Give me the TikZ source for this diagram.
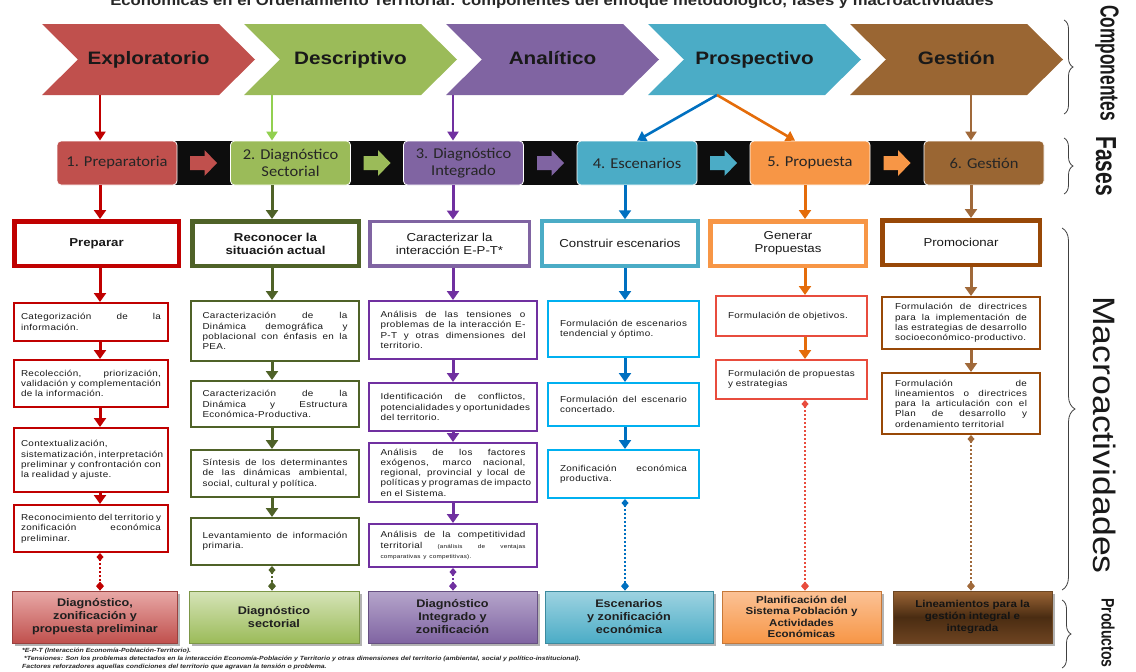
\documentclass[tikz,border=0pt]{standalone}
\usepackage{graphicx}
\usepackage{fontspec}
\setmainfont{Liberation Sans}[FakeStretch=1.15]
\newfontfamily\boxfont{Liberation Sans}[FakeStretch=1.15,LetterSpace=4]
\newfontfamily\phasefont{Carlito}[FakeStretch=1.1]
\usetikzlibrary{arrows.meta,decorations.pathreplacing,shadows}
\hyphenpenalty=10000
\tolerance=9999
\emergencystretch=10pt
\newlength\jw
\newcommand\jl[1]{\leavevmode\hbox to \jw{\spaceskip=0.3em plus 3em minus 0.05em\relax #1}\\}
\definecolor{chA}{HTML}{C0504D}
\definecolor{chB}{HTML}{9BBB59}
\definecolor{chC}{HTML}{8064A2}
\definecolor{chD}{HTML}{4BACC6}
\definecolor{chE}{HTML}{9A6633}
\definecolor{phE}{HTML}{F79646}
\definecolor{kA}{HTML}{C00000}
\definecolor{kB}{HTML}{4F6228}
\definecolor{kBl}{HTML}{92D050}
\definecolor{kC}{HTML}{7030A0}
\definecolor{kD}{HTML}{0070C0}
\definecolor{kE}{HTML}{E46C0A}
\definecolor{kF}{HTML}{A0693A}
\definecolor{bD}{HTML}{00B0F0}
\definecolor{bE}{HTML}{E84C3D}
\definecolor{bF}{HTML}{984807}
\definecolor{prAt}{HTML}{E8A9A7}
\definecolor{prBt}{HTML}{D6E4B8}
\definecolor{prCt}{HTML}{B5A5CB}
\definecolor{prDt}{HTML}{9ED3E1}
\definecolor{prEt}{HTML}{FBC296}
\definecolor{prFt}{HTML}{9B6535}
\definecolor{prFm}{HTML}{4A2C12}
\definecolor{prFb}{HTML}{6E4421}
\begin{document}
\begin{tikzpicture}[x=1pt,y=-1pt,
  chevtxt/.style={minimum width=213pt, minimum height=71pt, inner sep=0pt, text height=13pt, text depth=4pt, font=\bfseries\fontsize{18}{20}\selectfont, text=black!90},
  phasebox/.style={rounded corners=4pt, draw=white, line width=0.8pt, minimum width=120pt, minimum height=44pt, inner sep=0pt, align=center, font=\phasefont\fontsize{15}{17}\selectfont, text=black!85},
  ttl/.style={draw, fill=white, line width=4.5pt, minimum height=44.5pt, inner sep=0pt, align=center, font=\fontsize{11.5}{13}\selectfont, text=black!90},
  act/.style={draw, fill=white, line width=2.2pt, inner sep=0pt, align=left, text width=#1, execute at begin node={\setlength{\jw}{#1}}, font=\boxfont\fontsize{8.6}{10.3}\selectfont, text=black!90},
  prod/.style={draw, line width=0.8pt, inner sep=0pt, align=center, minimum height=52pt, font=\bfseries\fontsize{11}{13}\selectfont, text=black!88, drop shadow={shadow xshift=2.5pt, shadow yshift=-2.5pt, fill=black!50, opacity=0.6}},
  arr/.style={line width=3pt, -{Triangle[width=12pt,length=9pt]}},
  carr/.style={line width=2.6pt, -{Triangle[width=11pt,length=9pt]}},
  dotc/.style={line width=2pt, dash pattern=on 2pt off 2pt, {Diamond[width=7pt,length=8pt]}-{Diamond[width=8pt,length=9pt]}},
  brc/.style={decorate, decoration={brace, amplitude=9pt}, draw=black!75, line width=0.8pt},
  lab/.style={rotate=-90, inner sep=0pt, text=black!90},
  fn/.style={anchor=base west, inner sep=0pt, font=\bfseries\itshape\fontsize{6}{6.5}\selectfont, text=black!85}
]
\useasboundingbox (0,0) rectangle (1136,672);
\clip (0,0) rectangle (1136,672);

% title (cut off at the top, as in the reference)
\node[anchor=base, inner sep=0pt, font=\bfseries\fontsize{14.5}{16}\selectfont, text=black!85] (title) at (552,5) {Económicas en el Ordenamiento Territorial: componentes del enfoque metodológico, fases y macroactividades};

% column reference coordinates
\coordinate (X1) at (100,0);
\coordinate (X2) at (272,0);
\coordinate (X3) at (453,0);
\coordinate (X4) at (625,0);
\coordinate (X5) at (805,0);
\coordinate (X6) at (971,0);

% chevrons
\foreach \i/\L/\col/\txt in {1/42/chA/Exploratorio, 2/244/chB/Descriptivo, 3/446/chC/Analítico, 4/648/chD/Prospectivo, 5/850/chE/Gestión}{
  \fill[\col] (\L,24) -- ++(177,0) -- ++(36,35.5) -- ++(-36,35.5) -- ++(-177,0) -- ++(36,-35.5) -- cycle;
  \node[chevtxt] (c\i) at (\L+106.5,59.5) {\txt};
}

% phase band
\foreach \a/\b in {173/234, 347/407, 520/581, 693/754, 866/928}{
  \fill[black!95] (\a,141) rectangle (\b,185);
}
\node[phasebox, fill=chA] (p1) at (117,163) {1. Preparatoria};
\node[phasebox, fill=chB] (p2) at (290.5,163) {2. Diagnóstico\\Sectorial};
\node[phasebox, fill=chC] (p3) at (463.5,163) {3. Diagnóstico\\Integrado};
\node[phasebox, fill=chD] (p4) at (637,163) {4. Escenarios};
\node[phasebox, fill=phE] (p5) at (810,163) {5. Propuesta};
\node[phasebox, fill=chE] (p6) at (984,163) {6. Gestión};
\foreach \cx/\col in {203.5/chA, 377/chB, 550.5/chC, 723.5/chD, 897/phE}{
  \fill[\col] (\cx-13.5,156) -- (\cx+1,156) -- (\cx+1,150) -- (\cx+13.5,163) -- (\cx+1,176) -- (\cx+1,170) -- (\cx-13.5,170) -- cycle;
}

% chevron -> phase arrows
\draw[carr, kA] (c1.south -| X1) -- (p1.north -| X1);
\draw[carr, kBl] (c2.south -| X2) -- (p2.north -| X2);
\draw[carr, kC] (c3.south -| X3) -- (p3.north -| X3);
\coordinate (pst) at (717,95);
\draw[carr, kD] (pst) -- (p4.north);
\draw[carr, kE] (pst) -- ([xshift=-15pt]p5.north);
\draw[carr, kF] (c5.south -| X6) -- (p6.north -| X6);

% title boxes
\node[ttl, draw=kA, minimum width=164.5] (t1) at (96.5,243.5) {\bfseries Preparar};
\node[ttl, draw=kB, minimum width=166.5] (t2) at (275.5,243.5) {\bfseries Reconocer la\\\bfseries situación actual};
\node[ttl, draw=chC, line width=3.5pt, minimum width=159.5] (t3) at (449.5,243.5) {Caracterizar la\\interacción E-P-T*};
\node[ttl, draw=chD, line width=4pt, minimum width=156] (t4) at (620,243.5) {Construir escenarios};
\node[ttl, draw=phE, minimum width=155.5] (t5) at (788,243.5) {Generar\\Propuestas};
\node[ttl, draw=bF, minimum width=157.5] (t6) at (961,242.5) {Promocionar};

\draw[arr, kA] (p1.south -| X1) -- (t1.north -| X1);
\draw[arr, kB] (p2.south -| X2) -- (t2.north -| X2);
\draw[arr, kC] (p3.south -| X3) -- (t3.north -| X3);
\draw[arr, kD] (p4.south -| X4) -- (t4.north -| X4);
\draw[arr, kE] (p5.south -| X5) -- (t5.north -| X5);
\draw[arr, kF] (p6.south -| X6) -- (t6.north -| X6);

% column 1
\node[act=140pt, draw=kA, minimum width=153.8, minimum height=37.8] (a11) at (91,322) {\jl{Categorización de la}información.};
\node[act=140pt, draw=kA, minimum width=153.8, minimum height=46.8] (a12) at (91,383.5) {\jl{Recolección, priorización,}\jl{validación y complementación}de la información.};
\node[act=140pt, draw=kA, minimum width=153.8, minimum height=63.8] (a13) at (91,460) {Contextualización,\\\jl{sistematización, interpretación}\jl{preliminar y confrontación con}la realidad y ajuste.};
\node[act=140pt, draw=kA, minimum width=153.8, minimum height=46.8] (a14) at (91,528.5) {\jl{Reconocimiento del territorio y}\jl{zonificación económica}preliminar.};
% column 2
\node[act=145pt, draw=kB, minimum width=167.8, minimum height=59.8] (a21) at (275,331) {\jl{Caracterización de la}\jl{Dinámica demográfica y}\jl{poblacional con énfasis en la}PEA.};
\node[act=145pt, draw=kB, minimum width=167.8, minimum height=45.8] (a22) at (275,404) {\jl{Caracterización de la}\jl{Dinámica y Estructura}Económica-Productiva.};
\node[act=145pt, draw=kB, minimum width=167.8, minimum height=46.8] (a23) at (275,473.5) {\jl{Síntesis de los determinantes}\jl{de las dinámicas ambiental,}social, cultural y política.};
\node[act=145pt, draw=kB, minimum width=167.8, minimum height=46.8] (a24) at (275,541.5) {\jl{Levantamiento de información}primaria.};
% column 3
\node[act=145pt, draw=kC, minimum width=167.8, minimum height=57.8] (a31) at (453,330) {\jl{Análisis de las tensiones o}\jl{problemas de la interacción E-}\jl{P-T y otras dimensiones del}territorio.};
\node[act=145pt, draw=kC, minimum width=167.8, minimum height=47.8] (a32) at (453,407) {\jl{Identificación de conflictos,}\jl{potencialidades y oportunidades}del territorio.};
\node[act=145pt, draw=kC, minimum width=167.8, minimum height=58.8] (a33) at (453,472.5) {\jl{Análisis de los factores}\jl{exógenos, marco nacional,}\jl{regional, provincial y local de}\jl{políticas y programas de impacto}en el Sistema.};
\node[act=145pt, draw=kC, minimum width=167.8, minimum height=42.8] (a34) at (453,545.5) {\jl{Análisis de la competitividad}\jl{territorial {\fontsize{5.5}{7}\selectfont (análisis de ventajas}}{\fontsize{5.5}{7}\selectfont comparativas y competitivas).}};
% column 4
\node[act=127pt, draw=bD, minimum width=150.8, minimum height=55.8] (a41) at (623.5,329) {\jl{Formulación de escenarios}tendencial y óptimo.};
\node[act=127pt, draw=bD, minimum width=150.8, minimum height=42.8] (a42) at (623.5,404.5) {\jl{Formulación del escenario}concertado.};
\node[act=127pt, draw=bD, minimum width=150.8, minimum height=47.8] (a43) at (623.5,474) {\jl{Zonificación económica}productiva.};
% column 5
\node[act=127pt, draw=bE, minimum width=150.8, minimum height=39.8] (a51) at (791.5,316) {Formulación de objetivos.};
\node[act=127pt, draw=bE, minimum width=150.8, minimum height=38.8] (a52) at (791.5,379.5) {Formulación de propuestas\\y estrategias};
% column 6
\node[act=132pt, draw=bF, minimum width=157.8, minimum height=51.8] (a61) at (961,323) {\jl{Formulación de directrices}\jl{para la implementación de}\jl{las estrategias de desarrollo}socioeconómico-productivo.};
\node[act=132pt, draw=bF, minimum width=157.8, minimum height=60.8] (a62) at (961,403.5) {\jl{Formulación de}\jl{lineamientos o directrices}\jl{para la articulación con el}\jl{Plan de desarrollo y}ordenamiento territorial};

% arrows inside columns
\draw[arr, kA] (t1.south -| X1) -- (a11.north -| X1);
\draw[arr, kA] (a11.south -| X1) -- (a12.north -| X1);
\draw[arr, kA] (a12.south -| X1) -- (a13.north -| X1);
\draw[arr, kA] (a13.south -| X1) -- (a14.north -| X1);
\draw[arr, kB] (t2.south -| X2) -- (a21.north -| X2);
\draw[arr, kB] (a21.south -| X2) -- (a22.north -| X2);
\draw[arr, kB] (a22.south -| X2) -- (a23.north -| X2);
\draw[arr, kB] (a23.south -| X2) -- (a24.north -| X2);
\draw[arr, kC] (t3.south -| X3) -- (a31.north -| X3);
\draw[arr, kC] (a31.south -| X3) -- (a32.north -| X3);
\draw[arr, kC] (a32.south -| X3) -- (a33.north -| X3);
\draw[arr, kC] (a33.south -| X3) -- (a34.north -| X3);
\draw[arr, kD] (t4.south -| X4) -- (a41.north -| X4);
\draw[arr, kD] (a41.south -| X4) -- (a42.north -| X4);
\draw[arr, kD] (a42.south -| X4) -- (a43.north -| X4);
\draw[arr, kE] (t5.south -| X5) -- (a51.north -| X5);
\draw[arr, kE] (a51.south -| X5) -- (a52.north -| X5);
\draw[arr, kF] (t6.south -| X6) -- (a61.north -| X6);
\draw[arr, kF] (a61.south -| X6) -- (a62.north -| X6);

% products
\node[prod, top color=prAt, bottom color=chA, draw=chA!80!black, minimum width=165] (pr1) at (95,617) {Diagnóstico,\\zonificación y\\propuesta preliminar};
\node[prod, top color=prBt, bottom color=chB, draw=chB!80!black, minimum width=170] (pr2) at (274,617) {Diagnóstico\\sectorial};
\node[prod, top color=prCt, bottom color=chC, draw=chC!80!black, minimum width=169] (pr3) at (452.5,617) {Diagnóstico\\Integrado y\\zonificación};
\node[prod, top color=prDt, bottom color=chD, draw=chD!80!black, minimum width=168] (pr4) at (629,617) {Escenarios\\y zonificación\\económica};
\node[prod, top color=prEt, bottom color=phE, draw=phE!80!black, minimum width=159, font=\bfseries\fontsize{10}{11.5}\selectfont] (pr5) at (801.5,617) {Planificación del\\Sistema Población y\\Actividades\\Económicas};
\node[prod, top color=prFt, bottom color=prFb, middle color=prFm, draw=chE!70!black, minimum width=159, font=\bfseries\fontsize{10}{12}\selectfont, text=black!92] (pr6) at (972.5,617) {Lineamientos para la\\gestión integral e\\integrada};

\draw[dotc, kA] (a14.south -| X1) -- (pr1.north -| X1);
\draw[dotc, kB] (a24.south -| X2) -- (pr2.north -| X2);
\draw[dotc, kC] (a34.south -| X3) -- (pr3.north -| X3);
\draw[dotc, kD] (a43.south -| X4) -- (pr4.north -| X4);
\draw[dotc, bE] (a52.south -| X5) -- (pr5.north -| X5);
\draw[dotc, kF] (a62.south -| X6) -- (pr6.north -| X6);

% braces and side labels
\coordinate (bc1) at (1064,20);  \coordinate (bc2) at (1064,114);
\coordinate (bf1) at (1064,138); \coordinate (bf2) at (1064,194);
\coordinate (bm1) at (1062,228); \coordinate (bm2) at (1062,590);
\coordinate (bp1) at (1062,600); \coordinate (bp2) at (1062,668);
\draw[brc] (bc1) -- (bc2);
\draw[brc] (bf1) -- (bf2);
\draw[brc, decoration={brace, amplitude=13pt}] (bm1) -- (bm2);
\draw[brc] (bp1) -- (bp2);
\node[lab, font=\bfseries\fontsize{26}{26}\selectfont] (lc) at (1107,63) {\scalebox{0.58}[1]{Componentes}};
\node[lab, font=\bfseries\fontsize{29}{29}\selectfont] (lf) at (1106,166) {\scalebox{0.63}[1]{Fases}};
\node[lab, font=\fontsize{31}{32}\selectfont] (lm) at (1105,435) {Macroactividades};
\node[lab, font=\bfseries\fontsize{18}{18}\selectfont] (lp) at (1108,633) {\scalebox{0.68}[1]{Productos}};

% footnotes
\node[fn] (f1) at (22,652) {*E-P-T (Interacción Economía-Población-Territorio).};
\node[fn] (f2) at (22,660) {\hspace{2pt}*Tensiones: Son los problemas detectados en la interacción Economía-Población y Territorio y otras dimensiones del territorio (ambiental, social y político-institucional).};
\node[fn] (f3) at (22,668) {Factores reforzadores aquellas condiciones del territorio que agravan la tensión o problema.};
\end{tikzpicture}
\end{document}
